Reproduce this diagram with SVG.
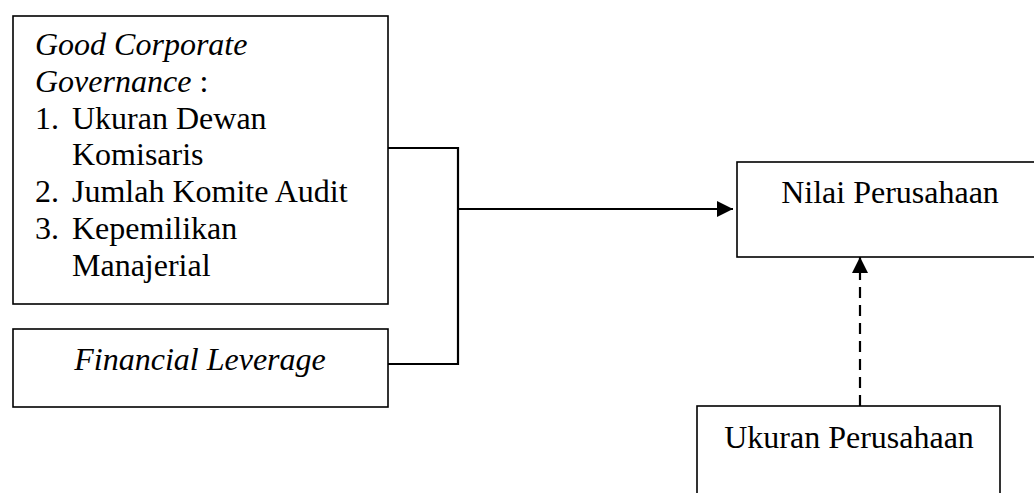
<svg xmlns="http://www.w3.org/2000/svg" width="1034" height="493" viewBox="0 0 1034 493">
<style>
.box{fill:#fff;stroke:#000;stroke-width:1.6}
.t{font-family:"Liberation Serif","Times New Roman",serif;font-size:32px;fill:#000}
.i{font-style:italic}
.c{fill:none;stroke:#000;stroke-width:2.2}
</style>
<defs>
<marker id="ah" markerWidth="18" markerHeight="18" refX="16" refY="8" orient="auto" markerUnits="userSpaceOnUse">
<path d="M0,0 L16,8 L0,16 Z" fill="#000"/>
</marker>
</defs>
<rect width="1034" height="493" fill="#fff"/>
<g id="connectors">
<polyline class="c" points="388,148 458,148 458,364 388,364"/>
<line class="c" x1="458" y1="209" x2="733" y2="209" marker-end="url(#ah)"/>
<line class="c" x1="860" y1="406" x2="860" y2="257" stroke-dasharray="11 7" marker-end="url(#ah)"/>
</g>
<g id="gcg">
<rect class="box" x="13" y="16" width="375" height="288"/>
<text class="t" x="35" y="55"><tspan class="i">Good Corporate</tspan></text>
<text class="t" x="35" y="92"><tspan class="i">Governance</tspan> :</text>
<text class="t" x="35" y="129">1.</text><text class="t" x="72" y="129">Ukuran Dewan</text>
<text class="t" x="72" y="165">Komisaris</text>
<text class="t" x="35" y="202">2.</text><text class="t" x="72" y="202">Jumlah Komite Audit</text>
<text class="t" x="35" y="239">3.</text><text class="t" x="72" y="239">Kepemilikan</text>
<text class="t" x="72" y="276">Manajerial</text>
</g>
<g id="fl">
<rect class="box" x="13" y="329" width="375" height="78"/>
<text class="t i" x="200" y="370" text-anchor="middle">Financial Leverage</text>
</g>
<g id="nilai">
<rect class="box" x="737" y="162" width="310" height="95"/>
<text class="t" x="890" y="203" text-anchor="middle">Nilai Perusahaan</text>
</g>
<g id="ukuran">
<rect class="box" x="697" y="406" width="303" height="100"/>
<text class="t" x="849" y="448" text-anchor="middle">Ukuran Perusahaan</text>
</g>
</svg>
